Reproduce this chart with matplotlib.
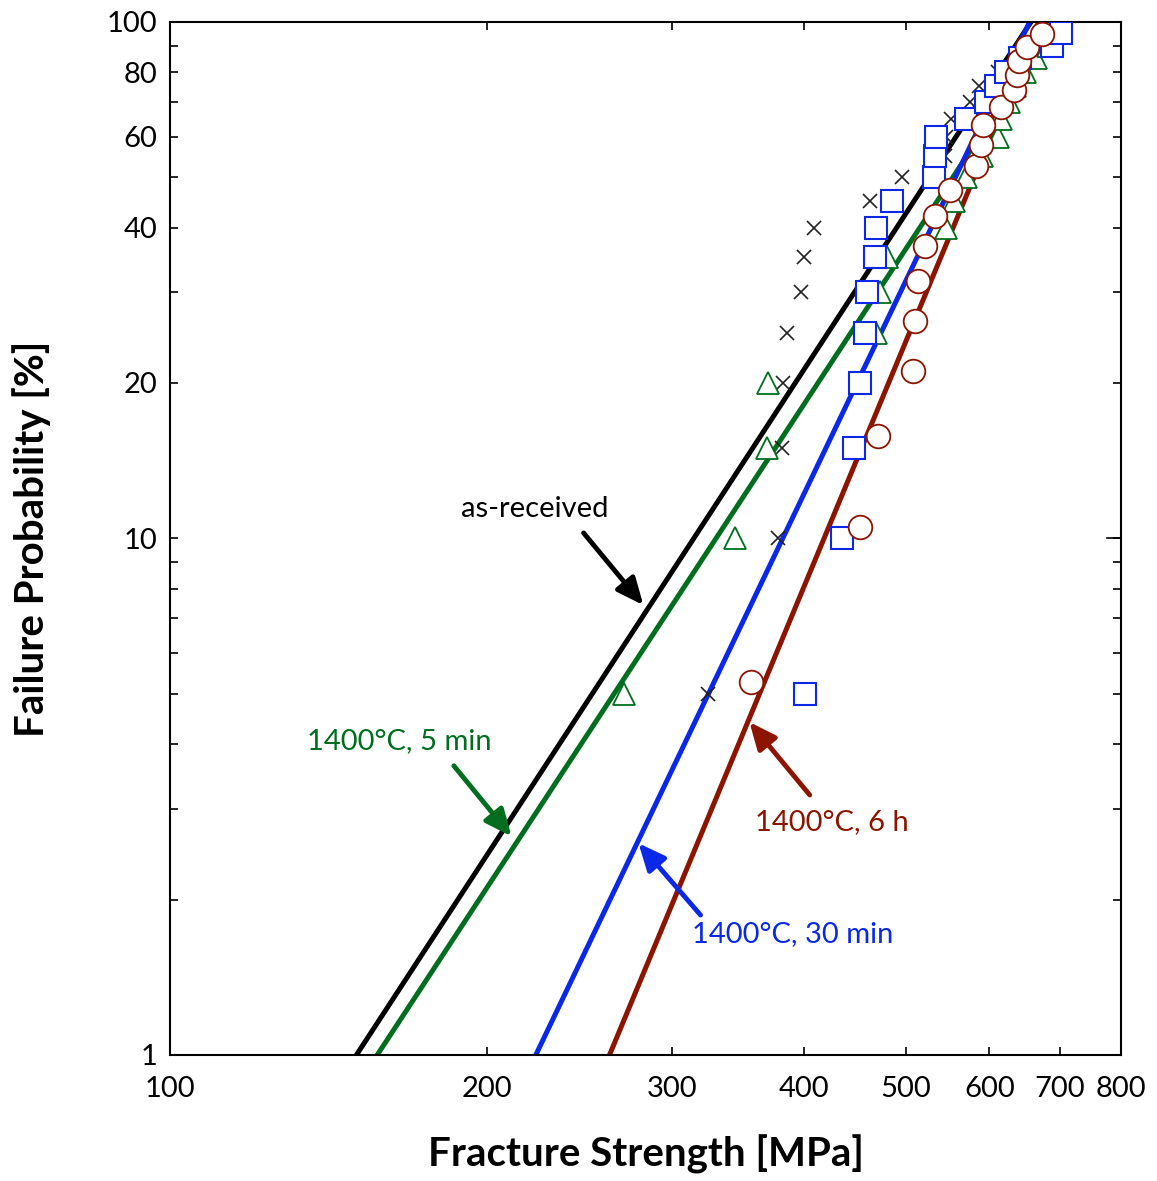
import numpy as np
import matplotlib.pyplot as plt

plt.rcParams['font.family'] = ['Lato', 'DejaVu Sans']

# failure probability [%] for each specimen (rank i / (n+1))
prob_19 = [5, 10, 15, 20, 25, 30, 35, 40, 45, 50, 55, 60, 65, 70, 75, 80, 85, 90, 95]
prob_18 = [100 * i / 19 for i in range(1, 19)]

# fracture strength [MPa]
as_received = [324, 378, 381, 382, 385, 397, 400, 409, 462, 496, 544, 546, 552,
               575, 587, 611, 639, 663, 675]
heat_5min = [270, 344, 369, 370, 468, 472, 480, 546, 555, 570, 590, 611, 616,
             626, 634, 649, 665, 682, 699]
heat_30min = [401, 435, 446, 452, 457, 459, 467, 468, 485, 532, 533, 534, 570,
              595, 608, 622, 642, 688, 701]
heat_6h = [356, 452, 470, 508, 510, 513, 521, 533, 551, 583, 589, 591, 615,
           633, 637, 640, 652, 673]

# fitted Weibull lines: strength at 1 % and at 100 %
fit_prob = [1, 100]
fit_as_received = [150.3, 657]
fit_5min = [157.3, 692]
fit_30min = [222.5, 655]
fit_6h = [261.4, 668]

c_black = 'black'
c_green = '#006e1e'
c_blue = '#0a28e6'
c_red = '#8b1500'

fig = plt.figure(figsize=(11.57, 11.81), dpi=100)
ax = fig.add_axes([0.147, 0.1067, 0.8219, 0.8747])
ax.set_xscale('log')
ax.set_yscale('log')

# линии аппроксимации
ax.plot(fit_as_received, fit_prob, color=c_black, lw=3.6, zorder=2)
ax.plot(fit_5min, fit_prob, color=c_green, lw=3.6, zorder=2)
ax.plot(fit_30min, fit_prob, color=c_blue, lw=3.6, zorder=2)
ax.plot(fit_6h, fit_prob, color=c_red, lw=3.6, zorder=2)

# экспериментальные точки
ax.plot(as_received, prob_19, 'x', color='#222222', ms=10, mew=1.2, zorder=3)
ax.plot(heat_5min, prob_19, '^', mfc='white', mec=c_green, ms=16, mew=1.3, zorder=4)
ax.plot(heat_30min, prob_19, 's', mfc='white', mec=c_blue, ms=16, mew=1.5, zorder=5)
ax.plot(heat_6h, prob_18, 'o', mfc='white', mec=c_red, ms=17, mew=1.3, zorder=6)

ax.set_xlim(100, 800)
ax.set_ylim(1, 100)

xt = [100, 200, 300, 400, 500, 600, 700, 800]
ax.set_xticks(xt)
ax.set_xticklabels([str(v) for v in xt])
ax.set_xticks([], minor=True)
yt = [1, 10, 20, 40, 60, 80, 100]
ax.set_yticks(yt)
ax.set_yticklabels([str(v) for v in yt])
ax.set_yticks([2, 3, 4, 5, 6, 7, 8, 9, 30, 50, 70, 90], minor=True)
ax.set_yticklabels([], minor=True)

ax.tick_params(which='both', direction='in', top=True, right=True,
               length=6, width=1.2, labelsize=21, pad=9)
ax.tick_params(axis='x', pad=15)
for s in ax.spines.values():
    s.set_linewidth(1.5)

# длинная отметка 10 справа
ax.plot([1, 0.985], [10, 10], transform=ax.get_yaxis_transform(),
        color='black', lw=1.2, clip_on=False)

ax.set_xlabel('Fracture Strength [MPa]', fontsize=29, fontweight='bold', labelpad=24)
ax.set_ylabel('Failure Probability [%]', fontsize=29, fontweight='bold', labelpad=40)

# подписи со стрелками
def label(text, xy, xytext, color, arrow_from):
    ax.text(xytext[0], xytext[1], text, color=color, fontsize=21,
            ha='center', va='center')
    ax.annotate('', xy=xy, xytext=arrow_from,
                arrowprops=dict(arrowstyle='-|>,head_length=0.9,head_width=0.4',
                                color=color, lw=3.5, mutation_scale=18,
                                shrinkA=0, shrinkB=0))

label('as-received', (281.5, 7.43), (222, 11.4), c_black, (247, 10.25))
label('1400°C, 5 min', (211, 2.65), (165, 4.05), c_green, (186, 3.63))
label('1400°C, 30 min', (278.5, 2.57), (390, 1.715), c_blue, (319, 1.866))
label('1400°C, 6 h', (355, 4.41), (425, 2.826), c_red, (405, 3.187))

fig.savefig('out.png', dpi=100)
